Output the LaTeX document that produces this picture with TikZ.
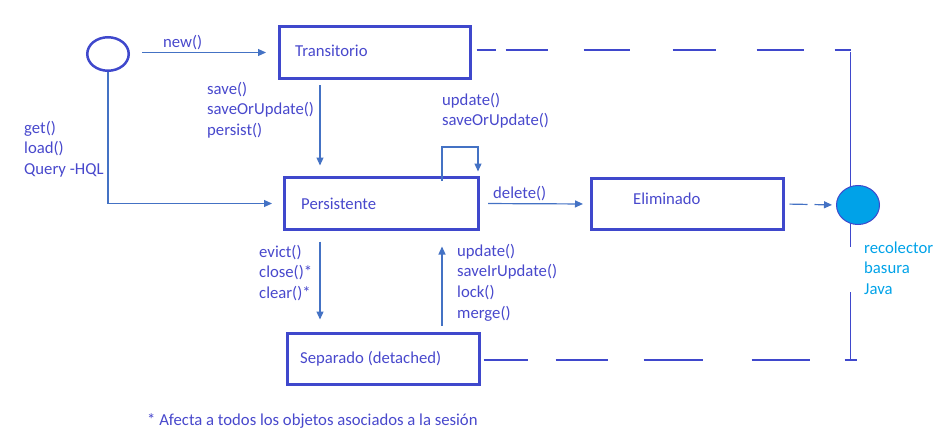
\documentclass[tikz,border=0pt]{standalone}
\usepackage{fontspec}
\setmainfont{Carlito}
\usetikzlibrary{arrows.meta,calc,shapes.geometric}
\definecolor{boxc}{RGB}{63,72,204}
\definecolor{arrc}{RGB}{68,114,196}
\definecolor{txtc}{RGB}{72,72,204}
\definecolor{gcc}{RGB}{0,162,232}
\tikzset{
  every node/.style={font=\fontsize{16.7pt}{20.7pt}\selectfont},
  statebox/.style={draw=boxc, line width=3pt, rectangle, inner sep=0pt},
  lbl/.style={text=txtc, anchor=base west, inner sep=0pt, align=left},
  gclbl/.style={text=gcc, anchor=base west, inner sep=0pt, align=left},
  arr/.style={draw=arrc, line width=1.2pt, -{Triangle[length=8pt,width=7pt]}},
  plain/.style={draw=boxc, line width=1.5pt},
}
\begin{document}
\begin{tikzpicture}[x=1pt,y=-1pt]
\useasboundingbox (0,0) rectangle (940,436);

% states
\node[statebox, minimum width=191pt, minimum height=52pt] (trans) at (375,52.5) {};
\node[statebox, minimum width=194pt, minimum height=52pt] (pers) at (381.5,203.5) {};
\node[statebox, minimum width=192pt, minimum height=51pt] (elim) at (687.5,204) {};
\node[statebox, minimum width=192pt, minimum height=51pt] (sep) at (383.5,359) {};

\node[lbl] (transt) at (295,57) {Transitorio};
\node[lbl] (perst) at (301,209) {Persistente};
\node[lbl] (elimt) at (633,204) {Eliminado};
\node[lbl] (sept) at (300,363) {Separado (detached)};

% start circle
\node[draw=boxc, line width=2.5pt, ellipse, minimum width=41.5pt, minimum height=33.5pt, inner sep=0pt] (oc) at (108,54) {};

% garbage collector line and circle
\coordinate (topc) at (850.5,50);
\coordinate (gap1) at (850.5,247);
\coordinate (gap2) at (850.5,292);
\coordinate (botc) at (850.5,360);
\draw[plain] ([yshift=-2pt]topc) -- (gap1);
\draw[plain] (gap2) -- (botc);
\draw[plain] ([xshift=-6pt]botc) -- ([xshift=6pt]botc);
\node[draw=boxc, line width=1pt, fill=gcc, ellipse, minimum width=43pt, minimum height=39pt, inner sep=0pt] (gc) at (858,205) {};

% dashed lines
\draw[plain, dash pattern=on 19pt off 10pt on 42pt off 36pt on 46pt off 43pt on 43pt off 41pt on 47pt off 31pt on 30pt off 100pt]
  ([xshift=4.5pt]trans.east |- topc) -- (topc);
\draw[plain, dash pattern=on 44pt off 28pt on 52pt off 36pt on 59pt off 49pt on 58pt off 37pt on 30pt off 100pt]
  ([xshift=2.5pt]sep.east |- botc) -- (botc);

% connectors
\draw[arr, shorten <=12pt, shorten >=12pt] (oc.east |- trans.west) -- (trans.west);
\draw[arr, shorten >=11pt] (oc.south) |- (pers.west);
\draw[arr, shorten <=5.5pt, shorten >=10.5pt] ([xshift=-55pt]trans.south) -- ([xshift=-55pt]trans.south |- pers.north);
\draw[arr, shorten >=4.5pt] ([shift={(60.5pt,-5pt)}]pers.north) -- ++(0,-34) -| ([xshift=96.5pt]pers.north);
\draw[arr, shorten <=8pt, shorten >=7pt] (pers.east) -- (elim.west);
\draw[arr, dash pattern=on 18pt off 7pt, shorten <=4.5pt, shorten >=4pt] (elim.east) -- (gc.west);
\draw[arr, shorten <=10.5pt, shorten >=12.5pt] ([xshift=-61.5pt]pers.south) -- ([xshift=-61.5pt]pers.south |- sep.north);
\draw[arr, shorten <=6.5pt, shorten >=15.5pt] ([xshift=58.5pt]sep.north) -- ([xshift=58.5pt]sep.north |- pers.south);

% labels (base anchor = baseline of last line)
\node[lbl] (lnew) at (163,48) {new()};
\node[lbl] (lsave) at (207,135.4) {save()\\saveOrUpdate()\\persist()};
\node[lbl] (lget) at (24,174.4) {get()\\load()\\Query -HQL};
\node[lbl] (lupd) at (442,125.7) {update()\\saveOrUpdate()};
\node[lbl] (ldel) at (493,198) {delete()};
\node[lbl] (levict) at (259,298.4) {evict()\\close()*\\clear()*};
\node[lbl] (lupd2) at (457,318.1) {update()\\saveIrUpdate()\\lock()\\merge()};
\node[gclbl] (lgc) at (864,294.4) {recolector\\basura\\Java};
\node[lbl] (lfoot) at (147,425) {* Afecta a todos los objetos asociados a la sesión};
\end{tikzpicture}
\end{document}
